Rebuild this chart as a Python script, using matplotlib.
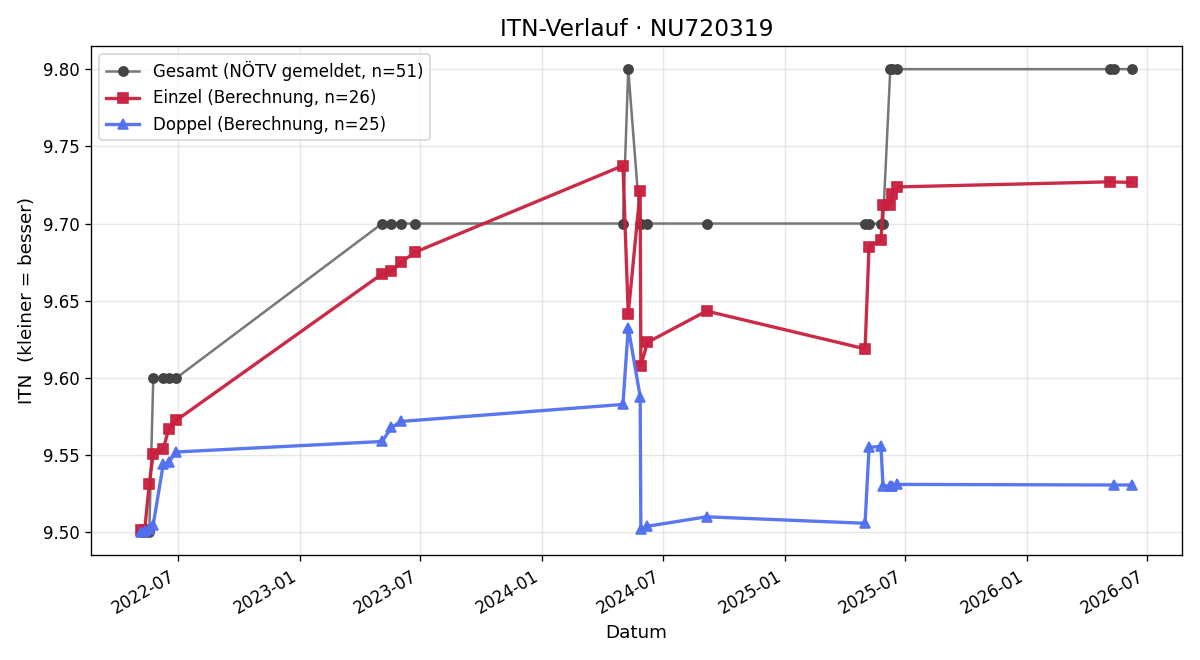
import matplotlib
matplotlib.use("Agg")
import matplotlib.pyplot as plt
import matplotlib.dates as mdates
import pandas as pd

# Gesamt (NÖTV gemeldet)
gesamt_datum = ["2022-05-06", "2022-05-12", "2022-05-19", "2022-05-25", "2022-06-09",
                "2022-06-17", "2022-06-29", "2023-05-05", "2023-05-19", "2023-06-03",
                "2023-06-24", "2024-05-02", "2024-05-10", "2024-05-28", "2024-05-29",
                "2024-06-08", "2024-09-05", "2025-05-02", "2025-05-08", "2025-05-26",
                "2025-05-29", "2025-06-09", "2025-06-12", "2025-06-19", "2026-05-06",
                "2026-05-12", "2026-06-09"]
gesamt_itn = [9.50, 9.50, 9.50, 9.60, 9.60,
              9.60, 9.60, 9.70, 9.70, 9.70,
              9.70, 9.70, 9.80, 9.70, 9.70,
              9.70, 9.70, 9.70, 9.70, 9.70,
              9.70, 9.80, 9.80, 9.80, 9.80,
              9.80, 9.80]

# Einzel (Berechnung)
einzel_datum = ["2022-05-06", "2022-05-12", "2022-05-19", "2022-05-25", "2022-06-09",
                "2022-06-17", "2022-06-29", "2023-05-05", "2023-05-19", "2023-06-03",
                "2023-06-24", "2024-05-02", "2024-05-10", "2024-05-28", "2024-05-29",
                "2024-06-08", "2024-09-05", "2025-05-02", "2025-05-08", "2025-05-26",
                "2025-05-29", "2025-06-09", "2025-06-12", "2025-06-19", "2026-05-06",
                "2026-06-09"]
einzel_itn = [9.5015, 9.5012, 9.5315, 9.551, 9.5537,
              9.5666, 9.5726, 9.6674, 9.669, 9.675,
              9.6815, 9.7375, 9.6414, 9.7213, 9.6078,
              9.623, 9.6433, 9.6188, 9.685, 9.6892,
              9.7123, 9.712, 9.7193, 9.7237, 9.727,
              9.7266]

# Doppel (Berechnung)
doppel_datum = ["2022-05-06", "2022-05-12", "2022-05-19", "2022-05-25", "2022-06-09",
                "2022-06-17", "2022-06-29", "2023-05-05", "2023-05-19", "2023-06-03",
                "2024-05-02", "2024-05-10", "2024-05-28", "2024-05-29", "2024-06-08",
                "2024-09-05", "2025-05-02", "2025-05-08", "2025-05-26", "2025-05-29",
                "2025-06-09", "2025-06-12", "2025-06-19", "2026-05-12", "2026-06-09"]
doppel_itn = [9.500, 9.501, 9.502, 9.505, 9.544,
              9.5453, 9.552, 9.5588, 9.5679, 9.5718,
              9.5828, 9.6326, 9.5879, 9.502, 9.5039,
              9.510, 9.5058, 9.555, 9.5556, 9.530,
              9.530, 9.530, 9.531, 9.5306, 9.5306]

fig, ax = plt.subplots(figsize=(10, 5.5), dpi=120)

ax.plot(pd.to_datetime(gesamt_datum), gesamt_itn, color="#777777", lw=1.5,
        marker="o", ms=5.5, mfc="#444444", mec="#444444",
        label="Gesamt (NÖTV gemeldet, n=51)")
ax.plot(pd.to_datetime(einzel_datum), einzel_itn, color="#C8203E", lw=2,
        marker="s", ms=6.5, alpha=0.95,
        label="Einzel (Berechnung, n=26)")
ax.plot(pd.to_datetime(doppel_datum), doppel_itn, color="#5170F0", lw=2,
        marker="^", ms=6.5, alpha=0.95,
        label="Doppel (Berechnung, n=25)")

ax.set_title("ITN-Verlauf · NU720319", fontsize=14)
ax.set_xlabel("Datum", fontsize=11)
ax.set_ylabel("ITN  (kleiner = besser)", fontsize=11)
ax.yaxis.set_major_formatter(plt.FormatStrFormatter("%.2f"))
ax.xaxis.set_major_locator(mdates.MonthLocator(bymonth=[1, 7]))
ax.xaxis.set_major_formatter(mdates.DateFormatter("%Y-%m"))
ax.grid(True, alpha=0.3)
ax.legend(loc="upper left")
fig.autofmt_xdate()

plt.tight_layout()
plt.savefig("out.png")
